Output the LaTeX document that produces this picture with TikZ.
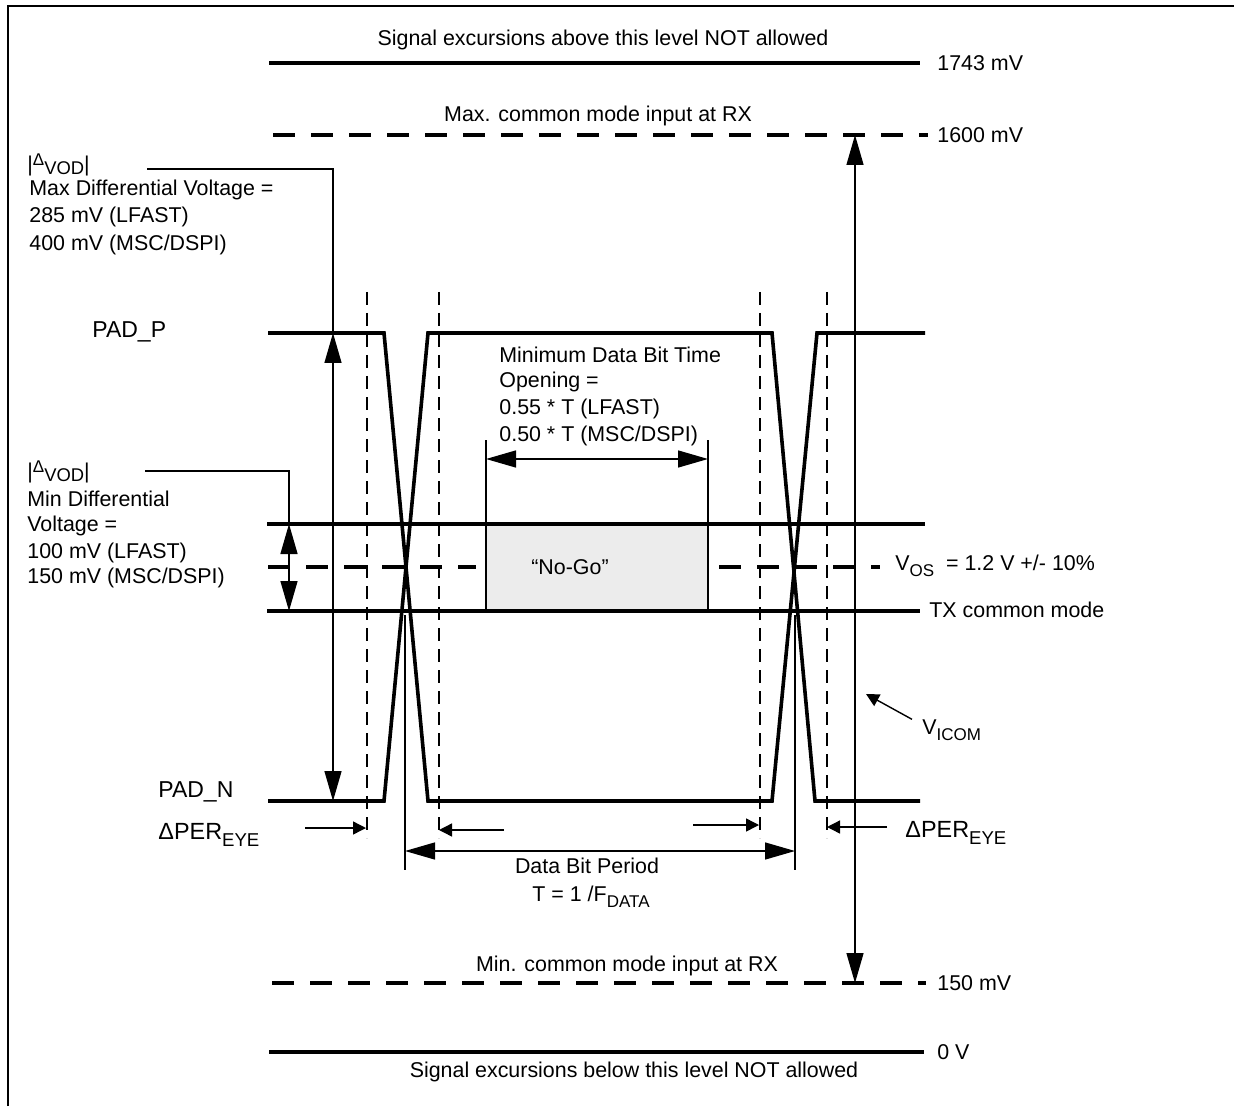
\documentclass[tikz,border=0pt]{standalone}
\usepackage{fontspec}
\setmainfont{Liberation Sans}
\usetikzlibrary{arrows.meta, positioning}

\tikzset{
  level/.style={line width=1.8pt},
  levdash/.style={line width=1.8pt, dash pattern=on 11pt off 8pt},
  guide/.style={line width=0.7pt},
  guidedash/.style={line width=0.7pt, dash pattern=on 6.5pt off 4pt},
  dimarr/.style={guide, {Triangle[length=15pt,width=8.5pt]}-{Triangle[length=15pt,width=8.5pt]}},
  ptr/.style={guide, -{Triangle[length=6.5pt,width=6.5pt]}},
  lbl/.style={inner sep=0pt, anchor=west, font=\fontsize{10.7}{12}\selectfont},
  clbl/.style={inner sep=0pt, font=\fontsize{10.7}{12}\selectfont},
  padlbl/.style={inner sep=0pt, anchor=west, font=\fontsize{11.5}{13}\selectfont},
}

\newcommand{\sub}[1]{\raisebox{-0.5ex}{\fontsize{8.5}{9}\selectfont #1}}
\newcommand{\dvod}{|\raisebox{0.5ex}{\fontsize{8.5}{9}\selectfont Δ}\raisebox{-0.3ex}{\fontsize{9.2}{10}\selectfont VOD}|}
\newcommand{\dper}{{\fontsize{11.7}{13}\selectfont ΔPER\raisebox{-0.5ex}{\fontsize{9.3}{10}\selectfont EYE}}}

\begin{document}
\begin{tikzpicture}[x=0.5pt, y=-0.5pt]
    \useasboundingbox (0,0) rectangle (1234,1106);
    \def\yTop{63}
    \def\yMax{135}
    \def\yP{333}
    \def\yHi{524}
    \def\yOS{567}
    \def\yLo{611}
    \def\yN{801}
    \def\yMin{983}
    \def\yZero{1052}

    % frame
    \draw[line width=1pt] (8,1106) -- (8,6) -- (1234,6);

    % limit levels
    \draw[level] (269,\yTop) -- (920,\yTop);
    \draw[levdash] (273,\yMax) -- (928,\yMax);
    \draw[levdash] (272,\yMin) -- (926,\yMin);
    \draw[level] (269,\yZero) -- (924,\yZero);

    \node[clbl] (above) at (603,40) {Signal excursions above this level NOT allowed};
    \node[lbl] (mvtop) at (937,\yTop) {1743 mV};
    \node[clbl] (maxrx) at (598,116) {Max. common mode input at RX};
    \node[lbl] (mvmax) at (937,\yMax) {1600 mV};
    \node[clbl] (minrx) at (627,966) {Min. common mode input at RX};
    \node[lbl] (mvmin) at (937,\yMin) {150 mV};
    \node[lbl] (mvzero) at (937,\yZero) {0 V};
    \node[clbl] (below) at (634,1072) {Signal excursions below this level NOT allowed};

    % eye opening guides
    \foreach \x in {367,439,760,827}
        \draw[guidedash] (\x,292) -- (\x,838);
    \draw[guide] (405,615) -- (405,870);
    \draw[guide] (795,615) -- (795,870);

    % no-go box
    \fill[gray!15] (486,\yHi) rectangle (708,\yLo);
    \draw[line width=1.4pt] (486,\yHi) rectangle (708,\yLo);
    \node[clbl] (nogo) at (570,\yOS) {“No-Go”};

    % TX band
    \draw[level] (267,\yHi) -- (925,\yHi);
    \draw[level] (267,\yLo) -- (920,\yLo);
    \draw[levdash] (268,\yOS) -- (476,\yOS);
    \draw[levdash] (719,\yOS) -- (880,\yOS);

    % PAD_P / PAD_N waveforms
    \draw[level] (268,\yP) -- (384,\yP) -- (428,\yN) -- (772,\yN) -- (817,\yP) -- (925,\yP);
    \draw[level] (268,\yN) -- (384,\yN) -- (428,\yP) -- (772,\yP) -- (815,\yN) -- (920,\yN);

    \node[padlbl] (padp) at (92,332) {PAD\_P};
    \node[padlbl] (padn) at (158,792) {PAD\_N};

    % max differential voltage
    \node[lbl] (vodmax) at (27,165) {\dvod};
    \node[lbl] (maxa) at (29,190) {Max Differential Voltage =};
    \node[lbl] (maxb) at (29,217) {285 mV (LFAST)};
    \node[lbl] (maxc) at (29,245) {400 mV (MSC/DSPI)};
    \draw[guide] (147,169) -| (333,\yP);
    \draw[dimarr] (333,\yP) -- (333,\yN);

    % min differential voltage
    \node[lbl] (vodmin) at (27,472) {\dvod};
    \node[lbl] (mina) at (27,499) {Min Differential};
    \node[lbl] (minb) at (27,526) {Voltage =};
    \node[lbl] (minc) at (27,553) {100 mV (LFAST)};
    \node[lbl] (mind) at (27,578) {150 mV (MSC/DSPI)};
    \draw[guide] (145,471) -| (289,\yHi);
    \draw[dimarr] (289,\yHi) -- (289,\yLo);

    % minimum bit time opening
    \node[lbl] (opa) at (499,355) {Minimum Data Bit Time};
    \node[lbl] (opb) at (499,382) {Opening =};
    \node[lbl] (opc) at (499,409) {0.55 * T (LFAST)};
    \node[lbl] (opd) at (499,436) {0.50 * T (MSC/DSPI)};
    \draw[guide] (486,440) -- (486,\yHi);
    \draw[guide] (708,440) -- (708,\yHi);
    \draw[dimarr] (486,459) -- (708,459);

    % right side labels
    \node[lbl] (vos) at (895,566) {V\sub{OS}~ = 1.2 V +/- 10\%};
    \node[lbl] (txcm) at (929,610) {TX common mode};
    \node[lbl] (vicom) at (922,730) {V\sub{ICOM}};
    \draw[dimarr] (855,\yMax) -- (855,\yMin);
    \draw[ptr] ([xshift=-5pt]vicom.north west) -- (866,694);

    % eye jitter and bit period
    \node[lbl] (perl) at (158,835) {\dper};
    \node[lbl] (perr) at (905,833) {\dper};
    \draw[ptr] (305,828) -- (366,828);
    \draw[ptr] (504,830) -- (439,830);
    \draw[ptr] (693,825) -- (759,825);
    \draw[ptr] (887,827) -- (827,827);
    \draw[dimarr] (405,851) -- (795,851);
    \node[clbl] (dbp) at (587,866) {Data Bit Period};
    \node[clbl] (tper) at (591,897) {T = 1 /F\sub{DATA}};
  \end{tikzpicture}
\end{document}
